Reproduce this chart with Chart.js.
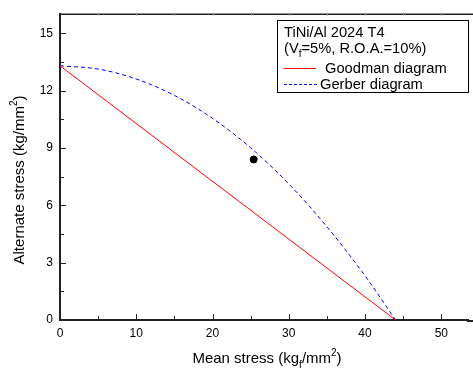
<!DOCTYPE html>
<html>
<head>
<meta charset="utf-8">
<script src="https://cdn.jsdelivr.net/npm/chart.js@4"></script>
<style>
  html, body { margin: 0; padding: 0; background: #fff; }
  #box { width: 473px; height: 369px; }
</style>
</head>
<body>
<div id="box"><canvas id="grafico"></canvas></div>
<script>
// Dados
const goodmanX = [0, 44];
const goodmanY = [13.3, 0];
const gerberX = [0, 5, 10, 15, 20, 25, 30, 35, 40, 44];
const gerberY = [13.3, 13.13, 12.61, 11.75, 10.55, 9.01, 7.12, 4.88, 2.31, 0];
const pontoX = [25.4];
const pontoY = [8.4];
const ticksX = [0, 10, 20, 30, 40, 50];
const ticksY = [0, 3, 6, 9, 12, 15];

const fonte = '"Liberation Sans", Arial, sans-serif';
const corEixo = '#222';

function pares(xs, ys) {
  return xs.map((x, i) => ({ x: x, y: ys[i] }));
}

// Escreve texto com sub/sobrescrito: partes = [[texto, 'n'|'sub'|'sup'], ...]
function textoMisto(ctx, partes, x, y, tam) {
  let cx = x;
  partes.forEach(([t, tipo]) => {
    const t2 = tipo === 'n' ? tam : Math.round(tam * 0.65);
    const dy = tipo === 'sub' ? tam * 0.3 : tipo === 'sup' ? -tam * 0.45 : 0;
    ctx.font = `${t2}px ${fonte}`;
    ctx.fillText(t, cx, y + dy);
    cx += ctx.measureText(t).width;
  });
}
function larguraMista(ctx, partes, tam) {
  let w = 0;
  partes.forEach(([t, tipo]) => {
    const t2 = tipo === 'n' ? tam : Math.round(tam * 0.65);
    ctx.font = `${t2}px ${fonte}`;
    w += ctx.measureText(t).width;
  });
  return w;
}

// Plugin: ticks para dentro, borda de cima, títulos dos eixos e legenda
const extras = {
  id: 'extras',
  afterDraw(chart) {
    const ctx = chart.ctx;
    const a = chart.chartArea;
    const sx = chart.scales.x;
    const sy = chart.scales.y;
    ctx.save();
    ctx.strokeStyle = corEixo;

    // eixo x continua até a borda da imagem
    ctx.lineWidth = 2;
    ctx.beginPath();
    ctx.moveTo(a.right - 1, a.bottom + 1);
    ctx.lineTo(chart.width, a.bottom + 1);
    ctx.stroke();

    ctx.lineWidth = 1;
    // ticks do eixo x (maiores e menores)
    for (let v = 5; v <= 55; v += 5) {
      const px = Math.round(sx.getPixelForValue(v)) + 0.5;
      const len = v % 10 === 0 ? 6 : 4;
      ctx.beginPath();
      ctx.moveTo(px, a.bottom);
      ctx.lineTo(px, a.bottom - len);
      ctx.stroke();
    }
    // ticks do eixo y
    for (let v = 1.5; v <= 16; v += 1.5) {
      const py = Math.round(sy.getPixelForValue(v)) + 0.5;
      const len = Math.abs(v % 3) < 0.01 ? 6 : 4;
      ctx.beginPath();
      ctx.moveTo(a.left, py);
      ctx.lineTo(a.left + len, py);
      ctx.stroke();
    }
    // borda superior
    ctx.lineWidth = 1.5;
    ctx.beginPath();
    ctx.moveTo(a.left, a.top);
    ctx.lineTo(chart.width, a.top);
    ctx.stroke();
    ctx.strokeStyle = '#bbb';
    ctx.lineWidth = 1;
    for (let v = 5; v <= 55; v += 5) {
      const px = Math.round(sx.getPixelForValue(v)) + 0.5;
      ctx.beginPath();
      ctx.moveTo(px, a.top);
      ctx.lineTo(px, a.top + 2);
      ctx.stroke();
    }

    // títulos dos eixos
    ctx.fillStyle = '#000';
    ctx.textBaseline = 'alphabetic';
    ctx.textAlign = 'left';
    const tituloX = [['Mean stress (kg', 'n'], ['f', 'sub'], ['/mm', 'n'], ['2', 'sup'], [')', 'n']];
    const wx = larguraMista(ctx, tituloX, 15);
    textoMisto(ctx, tituloX, 267 - wx / 2, 363, 15);

    const tituloY = [['Alternate stress (kg/mm', 'n'], ['2', 'sup'], [')', 'n']];
    const wy = larguraMista(ctx, tituloY, 15);
    ctx.save();
    ctx.translate(24, 180);
    ctx.rotate(-Math.PI / 2);
    textoMisto(ctx, tituloY, -wy / 2, 0, 15);
    ctx.restore();

    // legenda
    ctx.strokeStyle = '#000';
    ctx.lineWidth = 1;
    ctx.strokeRect(277.5, 20.5, 191, 72);
    textoMisto(ctx, [['TiNi/Al 2024 T4', 'n']], 284, 37, 14.7);
    textoMisto(ctx, [['(V', 'n'], ['f', 'sub'], ['=5%, R.O.A.=10%)', 'n']], 284, 53, 14.7);

    ctx.strokeStyle = '#ff0000';
    ctx.beginPath();
    ctx.moveTo(284, 68.5);
    ctx.lineTo(316, 68.5);
    ctx.stroke();
    textoMisto(ctx, [['Goodman diagram', 'n']], 325, 73, 14.7);

    ctx.strokeStyle = '#0000ff';
    ctx.setLineDash([3, 2]);
    ctx.beginPath();
    ctx.moveTo(284, 84.5);
    ctx.lineTo(317, 84.5);
    ctx.stroke();
    ctx.setLineDash([]);
    textoMisto(ctx, [['Gerber diagram', 'n']], 320, 89, 14.7);

    ctx.restore();
  }
};

new Chart(document.getElementById('grafico'), {
  type: 'scatter',
  data: {
    datasets: [
      {
        label: 'Goodman diagram',
        data: pares(goodmanX, goodmanY),
        showLine: true,
        borderColor: '#ff0000',
        borderWidth: 1,
        pointRadius: 0
      },
      {
        label: 'Gerber diagram',
        data: pares(gerberX, gerberY),
        showLine: true,
        borderColor: '#0000ff',
        borderWidth: 1,
        borderDash: [4, 3],
        pointRadius: 0,
        cubicInterpolationMode: 'monotone'
      },
      {
        label: 'Ponto',
        data: pares(pontoX, pontoY),
        pointRadius: 3.5,
        pointBackgroundColor: '#000',
        pointBorderColor: '#000'
      }
    ]
  },
  options: {
    responsive: true,
    maintainAspectRatio: false,
    animation: false,
    layout: { padding: { top: 11, right: 0, left: 0, bottom: 0 } },
    plugins: {
      legend: { display: false },
      tooltip: { enabled: false }
    },
    scales: {
      x: {
        type: 'linear',
        min: 0,
        max: 53.5,
        afterBuildTicks(scale) { scale.ticks = ticksX.map(v => ({ value: v })); },
        afterFit(scale) { scale.height = 49; },
        grid: { display: false, drawTicks: false },
        border: { display: true, color: corEixo, width: 2 },
        ticks: {
          color: '#000',
          padding: 6,
          maxRotation: 0,
          font: { family: fonte, size: 12 }
        }
      },
      y: {
        type: 'linear',
        min: 0,
        max: 16,
        afterBuildTicks(scale) { scale.ticks = ticksY.map(v => ({ value: v })); },
        afterFit(scale) { scale.width = 60; },
        grid: { display: false, drawTicks: false },
        border: { display: true, color: corEixo, width: 2 },
        ticks: {
          color: '#000',
          padding: 7,
          font: { family: fonte, size: 12 }
        }
      }
    }
  },
  plugins: [extras]
});
</script>
</body>
</html>
